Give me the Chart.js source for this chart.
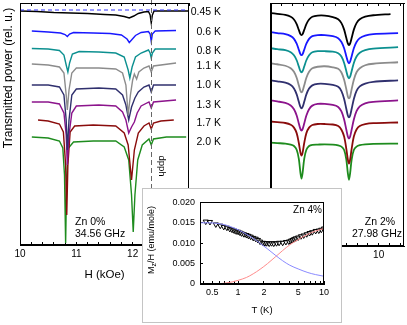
<!DOCTYPE html>
<html><head><meta charset="utf-8">
<script src="https://cdn.jsdelivr.net/npm/chart.js@4.4.1/dist/chart.umd.min.js"></script>
<style>
html,body{margin:0;padding:0;background:#fff;width:407px;height:325px;overflow:hidden;}
#cl{position:absolute;left:0;top:0;width:262px;height:290px;}
#cr{position:absolute;left:262px;top:0;width:145px;height:290px;}
#inset{position:absolute;left:142px;top:188px;width:200px;height:135px;box-sizing:border-box;border:1px solid #c4c4c4;background:#fff;}
#ci{position:absolute;left:0;top:0;width:198px;height:133px;}
</style></head><body>
<canvas id="cl" width="262" height="290"></canvas>
<canvas id="cr" width="145" height="290"></canvas>
<div id="inset"><canvas id="ci" width="198" height="133"></canvas></div>
<script>
// ---------- DATA ----------
const tempLabels = ['0.45 K','0.6 K','0.8 K','1.1 K','1.0 K','1.3 K','1.7 K','2.0 K'];
// Left panel (Zn 0%, 34.56 GHz): [H (kOe), transmitted power (rel. u.)]
const L045 = [[10.0,234],[10.3,233.5],[10.6,232.5],[10.9,232],[11.2,231.5],[11.5,230.5],[11.7,230],[11.85,228.5],[11.94,227],[12.02,229],[12.1,231.5],[12.2,233],[12.28,233.5],[12.31,230],[12.33,222],[12.35,230],[12.38,234],[12.6,234],[13.0,234]];
const L06 = [[10.21,214],[10.5,213],[10.72,212],[10.8,210.5],[10.84,208.5],[10.88,211],[10.95,212.5],[11.3,212],[11.6,211.5],[11.8,210],[11.9,206],[11.94,202.5],[11.98,205],[12.05,209.5],[12.15,212.5],[12.28,213.5],[12.31,211],[12.33,203.5],[12.35,211],[12.4,214],[12.77,214.5]];
const L08 = [[10.21,196.5],[10.5,196],[10.7,194.5],[10.78,190],[10.82,180],[10.85,173],[10.88,182],[10.93,191],[11.05,193.5],[11.4,193],[11.7,192],[11.85,188],[11.92,175],[11.95,167],[11.99,178],[12.05,188],[12.15,192],[12.28,195],[12.31,192],[12.33,187],[12.35,192],[12.4,196],[12.77,196]];
const L11 = [[10.21,181],[10.5,180],[10.7,178],[10.78,172],[10.82,150],[10.84,135],[10.87,155],[10.92,172],[11.0,177],[11.4,177],[11.7,176],[11.82,172],[11.88,160],[11.92,130],[11.96,150],[12.0,165],[12.03,171],[12.07,166],[12.11,173],[12.2,177],[12.29,179],[12.33,173],[12.37,179],[12.77,182]];
const L10 = [[10.21,160],[10.5,160],[10.7,158],[10.78,150],[10.82,125],[10.84,95],[10.87,125],[10.92,150],[11.0,156],[11.4,157],[11.7,156],[11.82,150],[11.88,140],[11.93,125],[11.98,138],[12.04,147],[12.1,153],[12.2,158],[12.29,160],[12.33,153],[12.37,160],[12.77,160]];
const L13 = [[10.21,143],[10.5,143],[10.7,141],[10.78,132],[10.82,110],[10.84,80],[10.87,110],[10.92,132],[11.0,139],[11.4,140],[11.7,139],[11.82,133],[11.88,125],[11.93,112],[11.98,118],[12.03,123],[12.08,132],[12.15,139],[12.29,143],[12.33,137],[12.37,143],[12.77,145]];
const L17 = [[10.32,125],[10.5,124],[10.7,121],[10.77,113],[10.81,80],[10.83,30],[10.85,80],[10.89,113],[10.97,119],[11.3,120],[11.7,119],[11.85,112],[11.92,100],[11.98,65],[12.03,95],[12.1,112],[12.2,119],[12.29,122],[12.33,116],[12.37,122],[12.5,124],[12.73,125]];
const L20 = [[10.21,108],[10.5,107],[10.7,104],[10.76,97],[10.79,70],[10.81,2],[10.83,70],[10.86,97],[10.95,103],[11.3,104],[11.7,104],[11.85,98],[11.93,85],[11.98,50],[12.01,13],[12.04,50],[12.09,85],[12.17,100],[12.29,106],[12.33,100],[12.37,106],[12.6,108],[12.95,108]];
const dashLevel = 235;
const dpphField = 12.33;
// Right panel (Zn 2%, 27.98 GHz): shared field grid, one value list per temperature
const RH = [8.0,8.12,8.27,8.37,8.43,8.48,8.52,8.55,8.57,8.59,8.62,8.66,8.71,8.77,8.87,9.0,9.15,9.25,9.31,9.36,9.40,9.43,9.45,9.47,9.50,9.54,9.59,9.65,9.75,9.9,10.36];
const R045 = [232,231.2,230.2,228.3,225.6,221,215.2,211,210,211,215.2,221,225.6,228.3,229.5,229.5,228,225.8,222,215.5,207.3,201.5,200,201.5,207.3,215.5,222,225.8,228.4,229.8,231];
const R06 = [213,212,211,209,206.3,201.5,195.5,191,190,191,195.5,201.5,206.3,209,210,210,209,207,203.2,197,189,183.5,182,183.5,189,197,203.2,207,209.5,211,212];
const R08 = [197,196,195,193,190,185,178.7,174.1,173,174.1,178.7,185,190,193,194,194,193.5,192,188.7,182.3,174.3,168.5,167,168.5,174.3,182.3,188.7,192.5,195,196.5,198];
const R11 = [182,181,179.5,177,173.5,167.5,160,154.4,153,154.4,160,167.5,173.5,177,178.5,179,178,176.5,172.8,165.5,156.3,148.7,147,148.7,156.3,165.5,173,177,180,181.5,183];
const R10 = [165,164,162.6,160.3,156.8,151,143.6,138.4,137,138.4,143.6,151,156.8,160,161.5,161.5,160.5,158.5,154.3,146.5,136.7,129.7,128,129.7,136.7,146.5,154.5,159,161.8,163.5,165];
const R13 = [145,144,142.5,140,136.2,130,122,116.4,115,116.4,122,130,136.2,139.8,141.5,141.5,140.5,138.5,134,126,116,108.8,107,108.8,116,126,134.2,139,142,143.5,145];
const R17 = [124,123.3,122.5,120.8,117.9,112.4,102.6,93,90,93,102.6,112.4,117.9,120.5,121.5,121.5,121,119.5,115.8,109,97,85.7,82,85.7,97,109,116,119.5,121.3,122.3,123];
const R20 = [103,102.5,102,101,99.6,95.8,86.8,72.8,67,72.8,86.8,95.8,99.6,100.8,101,101.2,101,100.3,99,95.6,86.4,72,66,72,86.4,95.6,99,100.5,101.3,101.8,102];
const R045end = 10.22; // black trace stops earlier
// Inset (Zn 4%): T (K) vs Mz/H (emu/mole)
const insetT = [0.42,0.47,0.55,0.62,0.68,0.74,0.8,0.85,0.9,0.95,1.0,1.05,1.1,1.17,1.25,1.32,1.4,1.5,1.6,1.7,1.8,1.95,2.05,2.15,2.3,2.45,2.6,2.8,3.0,3.3,3.6,3.9,4.1,4.3,4.5,4.7,5.0,5.4,5.8,6.3,6.8,7.3,8.0,8.7,9.3,10.0];
const insetM = [0.0153,0.0152,0.0146,0.0143,0.0140,0.0138,0.0135,0.0133,0.0131,0.0129,0.0128,0.0126,0.0124,0.0122,0.0120,0.0118,0.0116,0.0113,0.0111,0.0108,0.0104,0.0101,0.0100,0.0100,0.0099,0.0100,0.0099,0.0100,0.0101,0.0101,0.0103,0.0104,0.0106,0.0108,0.0110,0.0112,0.0114,0.0117,0.0119,0.0122,0.0125,0.0127,0.0130,0.0131,0.0133,0.0136];
const blueT = [0.36,0.45,0.55,0.7,0.85,1.0,1.25,1.5,1.8,2.2,2.7,3.3,4,5,6.5,8,10];
const blueM = [0.0150,0.0150,0.0149,0.0145,0.0139,0.0133,0.0122,0.0112,0.0100,0.0086,0.0071,0.0057,0.0046,0.0037,0.0028,0.0023,0.0019];
const redT = [0.55,0.7,0.85,1.0,1.25,1.5,1.8,2.2,2.7,3.3,4,5,6.5,8,10];
const redM = [0.0,0.0002,0.0005,0.0009,0.0016,0.0025,0.0036,0.0050,0.0066,0.0082,0.0096,0.0109,0.0122,0.0130,0.0136];
const insetXTicks = [0.4,0.5,0.6,0.7,0.8,0.9,1,2,3,4,5,6,7,8,9,10];
const insetXLabels = [0.5,1,2,5,10];
const insetYTicks = [0,0.005,0.01,0.015,0.02];

// ---------- RENDER ----------
const FONT = 'Liberation Sans, Arial, Helvetica, sans-serif';
Chart.defaults.font.family = FONT;
Chart.defaults.color = '#000';
const colors = ['#000000','#1818ff','#0c9090','#8c8c8c','#30306e','#8c148c','#8a0c0c','#1e8c1e'];
const leftSeries = [L045,L06,L08,L11,L10,L13,L17,L20];
const rightSeries = [R045,R06,R08,R11,R10,R13,R17,R20];
const pts = a => a.map(p => ({x:p[0], y:p[1]}));
const zip = (a,b) => a.map((v,i) => ({x:v, y:b[i]}));
function stepTicks(a,b,s){const t=[];for(let k=Math.ceil(a/s-1e-9);k*s<=b+1e-9;k++)t.push({value:Math.round(k*s*1000)/1000});return t;}
const isInt = v => Math.abs(v-Math.round(v))<1e-6;

const frame = {
  id:'frame',
  afterDraw(chart){
    const {ctx, chartArea:a} = chart;
    ctx.save(); ctx.strokeStyle='#000'; ctx.lineWidth=1;
    ctx.strokeRect(Math.round(a.left)+0.5, Math.round(a.top)+0.5, Math.round(a.right-a.left)-1, Math.round(a.bottom-a.top)-1);
    ctx.restore();
  }
};

function hAxes(min, max, bottomH, labelPad){
  return {
    x: { type:'linear', position:'bottom', min, max,
      afterBuildTicks: s => { s.ticks = stepTicks(min, max, 0.2); },
      ticks: { autoSkip:false, maxRotation:0, padding:labelPad, font:{size:10}, callback: v => isInt(v) ? String(Math.round(v)) : '' },
      grid: { drawOnChartArea:false, tickLength:-3, color:'#000' },
      border: { color:'#000' },
      afterFit: s => { s.height = bottomH; } },
    xt: { type:'linear', position:'top', min, max,
      afterBuildTicks: s => { s.ticks = stepTicks(min, max, 0.2); },
      ticks: { display:false },
      grid: { drawOnChartArea:false, tickLength:-3, color:'#000' },
      border: { color:'#000' },
      afterFit: s => { s.height = 0; } }
  };
}

// Left panel
const leftText = {
  id:'leftText',
  afterDatasetsDraw(chart){
    const {ctx, chartArea:a, scales} = chart;
    const xp = Math.round(scales.x.getPixelForValue(dpphField))+0.5;
    ctx.save();
    ctx.strokeStyle='#666'; ctx.lineWidth=1; ctx.setLineDash([5,3]);
    ctx.beginPath(); ctx.moveTo(xp, 0); ctx.lineTo(xp, a.bottom); ctx.stroke();
    ctx.restore();
  },
  afterDraw(chart){
    const {ctx} = chart;
    ctx.save();
    ctx.fillStyle='#000';
    ctx.save(); ctx.translate(9, 78); ctx.rotate(-Math.PI/2);
    ctx.font = '12px '+FONT; ctx.textAlign='center'; ctx.textBaseline='middle';
    ctx.fillText('Transmitted power (rel. u.)', 0, 0); ctx.restore();
    ctx.font = '10.5px '+FONT; ctx.textAlign='right'; ctx.textBaseline='middle';
    const ly = [12.5,32.5,51.5,66.5,85,105,123.5,142];
    tempLabels.forEach((t,i) => ctx.fillText(t, 221, ly[i]));
    ctx.font = '10.5px '+FONT; ctx.textAlign='left';
    ctx.fillText('Zn 0%', 75, 222); ctx.fillText('34.56 GHz', 75, 234);
    ctx.save(); ctx.translate(162, 166); ctx.rotate(Math.PI/2);
    ctx.font = '9.5px '+FONT; ctx.textAlign='center'; ctx.textBaseline='middle';
    ctx.fillText('dpph', 0, 0); ctx.restore();
    ctx.restore();
  }
};
const leftDatasets = [{ data: [{x:10,y:dashLevel},{x:13,y:dashLevel}], borderColor:'#3030ff', borderWidth:1, borderDash:[4,3] }]
  .concat(leftSeries.map((s,i) => ({ data: pts(s), borderColor: colors[i], borderWidth: 1.4 })));
const leftScales = hAxes(10, 13, 45, 6);
leftScales.x.title = { display:true, text:'H (kOe)', font:{size:11.5}, padding:{top:0,bottom:8} };
leftScales.y = { min:0, max:242, ticks:{display:false}, grid:{display:false}, border:{color:'#000'}, afterFit: s => { s.width = 20; } };
new Chart(document.getElementById('cl'), {
  type:'line',
  data:{ datasets: leftDatasets },
  options:{
    responsive:false, animation:false, events:[], devicePixelRatio:1,
    layout:{ padding:{ left:0, top:3, right:73, bottom:0 } },
    plugins:{ legend:{display:false}, tooltip:{enabled:false} },
    elements:{ point:{ radius:0 }, line:{ tension:0 } },
    scales: leftScales
  },
  plugins:[frame, leftText]
});

// Right panel
const rightText = {
  id:'rightText',
  afterDraw(chart){
    const {ctx} = chart;
    ctx.save(); ctx.fillStyle='#000';
    ctx.font='10.5px '+FONT; ctx.textAlign='center'; ctx.textBaseline='middle';
    ctx.fillText('Zn 2%', 118, 222); ctx.fillText('27.98 GHz', 115, 234);
    ctx.restore();
  }
};
const rightScales = hAxes(8, 10.47, 44, 6);
rightScales.y = { min:0, max:242, ticks:{display:false}, grid:{display:false}, border:{color:'#000'}, afterFit: s => { s.width = 2; } };
new Chart(document.getElementById('cr'), {
  type:'line',
  data:{ datasets: rightSeries.map((s,i) => {
    let d = zip(RH, s);
    if (i === 0) { d = d.filter(p => p.x < R045end); d.push({x:R045end, y:s[s.length-1]}); }
    return { data: d, borderColor: colors[i], borderWidth: 1.8 };
  }) },
  options:{
    responsive:false, animation:false, events:[], devicePixelRatio:1,
    layout:{ padding:{ left:0, top:3, right:3, bottom:0 } },
    plugins:{ legend:{display:false}, tooltip:{enabled:false} },
    elements:{ point:{ radius:0 }, line:{ tension:0.3 } },
    scales: rightScales
  },
  plugins:[frame, rightText]
});

// Inset
const insetText = {
  id:'insetText',
  afterDraw(chart){
    const {ctx} = chart;
    ctx.save(); ctx.fillStyle='#000';
    ctx.font='10px '+FONT; ctx.textAlign='right'; ctx.textBaseline='middle';
    ctx.fillText('Zn 4%', 179, 21);
    ctx.translate(9, 51); ctx.rotate(-Math.PI/2);
    ctx.textAlign='left'; ctx.textBaseline='middle';
    ctx.font='9px '+FONT; const wM = ctx.measureText('M').width, wR = ctx.measureText('/H (emu/mole)').width;
    ctx.font='7px '+FONT; const wz = ctx.measureText('z').width;
    let x0 = -(wM+wz+wR)/2;
    ctx.font='9px '+FONT; ctx.fillText('M', x0, 0);
    ctx.font='7px '+FONT; ctx.fillText('z', x0+wM, 2.5);
    ctx.font='9px '+FONT; ctx.fillText('/H (emu/mole)', x0+wM+wz, 0);
    ctx.restore();
  }
};
new Chart(document.getElementById('ci'), {
  type:'line',
  data:{ datasets:[
    { data: zip(blueT, blueM), borderColor:'#8a8aff', borderWidth:1, pointRadius:0, cubicInterpolationMode:'monotone' },
    { data: zip(redT, redM), borderColor:'#ff8c8c', borderWidth:1, pointRadius:0, cubicInterpolationMode:'monotone' },
    { data: zip(insetT, insetM), showLine:false, pointStyle:'triangle', rotation:180, pointRadius:3, borderColor:'#000', borderWidth:1, backgroundColor:'rgba(255,255,255,0.4)' }
  ]},
  options:{
    responsive:false, animation:false, events:[], devicePixelRatio:1,
    layout:{ padding:{ left:0, top:7, right:17, bottom:0 } },
    plugins:{ legend:{display:false}, tooltip:{enabled:false} },
    scales:{
      x:{ type:'logarithmic', min:0.36, max:10,
        afterBuildTicks: s => { s.ticks = insetXTicks.map(v => ({value:v})); },
        ticks:{ autoSkip:false, maxRotation:0, padding:6, font:{size:9}, callback: v => insetXLabels.includes(v) ? String(v) : '' },
        grid:{ drawOnChartArea:false, tickLength:-3, color:'#000' },
        border:{ color:'#000' },
        title:{ display:true, text:'T (K)', font:{size:9.5}, padding:{top:0,bottom:6} },
        afterFit: s => { s.height = 38; } },
      y:{ min:0, max:0.02,
        afterBuildTicks: s => { s.ticks = insetYTicks.map(v => ({value:v})); },
        ticks:{ padding:8, font:{size:9}, callback: v => v === 0 ? '0' : v.toFixed(3) },
        grid:{ drawOnChartArea:false, tickLength:-3, color:'#000' },
        border:{ color:'#000' },
        afterFit: s => { s.width = 57; } }
    }
  },
  plugins:[frame, insetText]
});
</script></body></html>
